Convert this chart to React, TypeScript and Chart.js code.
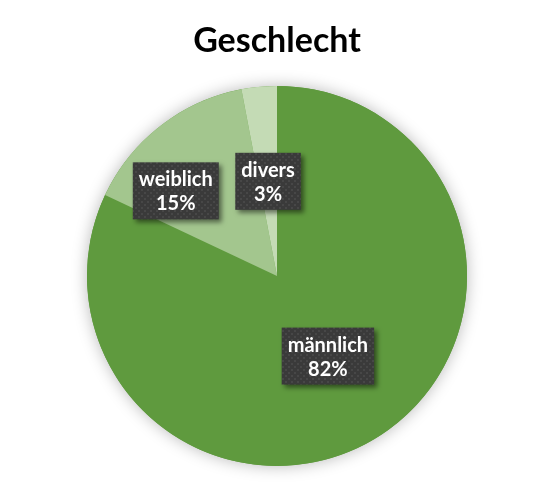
import React, { useEffect, useRef } from 'react';
import { Chart, ChartConfiguration, Plugin, registerables } from 'chart.js';

Chart.register(...registerables);

const categories = ['männlich', 'weiblich', 'divers'];
const shares = [82, 15, 3];
const sliceColors = ['#5f9a3e', '#a3c68e', '#c4dbb5'];

// Excel moved the weiblich label out of the way of divers
const labelNudge = [
    { dx: 0, dy: 0 },
    { dx: -43, dy: -10 },
    { dx: 0, dy: 0 },
];

const FONT = 'Lato, "Open Sans", "Noto Sans", sans-serif';

const makePattern = (ctx: CanvasRenderingContext2D) => {
    const tile = document.createElement('canvas');
    tile.width = 6;
    tile.height = 6;
    const t = tile.getContext('2d')!;
    t.fillStyle = '#3a3a3a';
    t.fillRect(0, 0, 6, 6);
    t.fillStyle = '#474747';
    t.fillRect(0, 0, 2, 2);
    t.fillRect(3, 3, 2, 2);
    return ctx.createPattern(tile, 'repeat') || '#3a3a3a';
};

// soft glow shadow under the whole pie
const pieShadow: Plugin<'pie'> = {
    id: 'pieShadow',
    beforeDatasetsDraw(chart) {
        const arc: any = chart.getDatasetMeta(0).data[0];
        if (!arc) return;
        const { x, y, outerRadius } = arc.getProps(['x', 'y', 'outerRadius'], true);
        const ctx = chart.ctx;
        ctx.save();
        ctx.shadowColor = 'rgba(0,0,0,0.28)';
        ctx.shadowBlur = 16;
        ctx.fillStyle = sliceColors[0];
        ctx.beginPath();
        ctx.arc(x, y, outerRadius, 0, Math.PI * 2);
        ctx.fill();
        ctx.restore();
    },
};

const boxLabels: Plugin<'pie'> = {
    id: 'boxLabels',
    afterDatasetsDraw(chart) {
        const ctx = chart.ctx;
        const meta = chart.getDatasetMeta(0);
        const pattern = makePattern(ctx);
        const total = shares.reduce((a, b) => a + b, 0);
        meta.data.forEach((el: any, i) => {
            const { x, y, startAngle, endAngle, outerRadius } = el.getProps(
                ['x', 'y', 'startAngle', 'endAngle', 'outerRadius'], true);
            const mid = (startAngle + endAngle) / 2;
            const r = outerRadius * 0.5;
            const cx = x + Math.cos(mid) * r + labelNudge[i].dx;
            const cy = y + Math.sin(mid) * r + labelNudge[i].dy;
            const line1 = categories[i];
            const line2 = Math.round((shares[i] / total) * 100) + '%';
            ctx.save();
            ctx.font = `bold 20px ${FONT}`;
            const w = Math.max(ctx.measureText(line1).width, ctx.measureText(line2).width) + 12;
            const h = 57;
            ctx.shadowColor = 'rgba(0,0,0,0.5)';
            ctx.shadowBlur = 5;
            ctx.shadowOffsetX = 3;
            ctx.shadowOffsetY = 3;
            ctx.fillStyle = pattern;
            ctx.fillRect(cx - w / 2, cy - h / 2, w, h);
            ctx.restore();
            ctx.save();
            ctx.font = `bold 20px ${FONT}`;
            ctx.fillStyle = '#ffffff';
            ctx.textAlign = 'center';
            ctx.textBaseline = 'middle';
            ctx.fillText(line1, cx, cy - 11);
            ctx.fillText(line2, cx, cy + 13);
            ctx.restore();
        });
    },
};

const App: React.FC = () => {
    const chartRef = useRef<HTMLCanvasElement>(null);

    useEffect(() => {
        document.body.style.margin = '0';
        if (!chartRef.current) return;
        const ctx = chartRef.current.getContext('2d');
        if (!ctx) return;

        const config: ChartConfiguration<'pie'> = {
            type: 'pie',
            data: {
                labels: categories,
                datasets: [{
                    data: shares,
                    backgroundColor: sliceColors,
                    borderWidth: 0,
                    hoverOffset: 0,
                }],
            },
            options: {
                responsive: false,
                animation: false,
                layout: {
                    padding: { top: 0, bottom: 23, left: 87, right: 86 },
                },
                plugins: {
                    legend: { display: false },
                    tooltip: { enabled: false },
                    title: {
                        display: true,
                        text: 'Geschlecht',
                        color: '#000000',
                        font: { family: FONT, size: 34, weight: 'bold', lineHeight: 1.2 },
                        padding: { top: 21, bottom: 24 },
                    },
                },
            },
            plugins: [pieShadow, boxLabels],
        };

        const chart = new Chart(ctx, config);
        return () => chart.destroy();
    }, []);

    return (
        <div style={{ width: 553, height: 489, background: '#ffffff' }}>
            <canvas ref={chartRef} width={553} height={489} />
        </div>
    );
};

export default App;
